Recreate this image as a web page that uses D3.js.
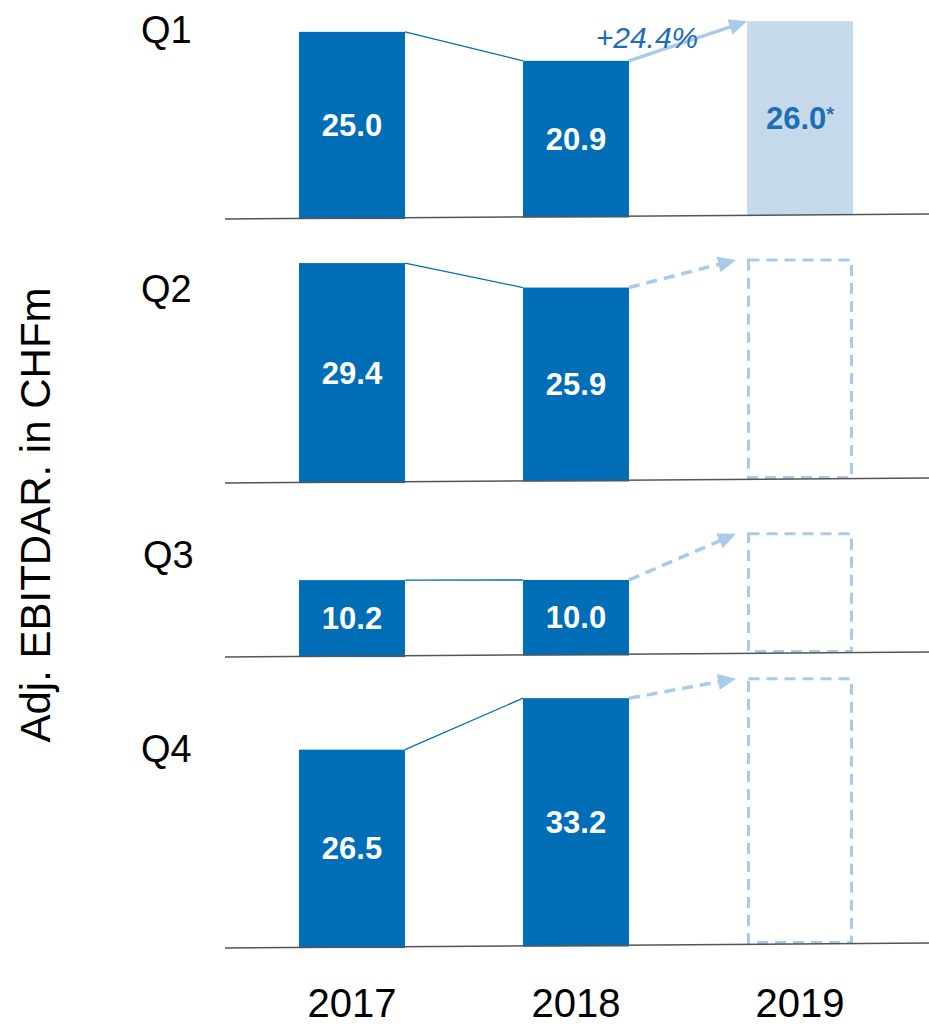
<!DOCTYPE html>
<html>
<head>
<meta charset="utf-8">
<script src="https://cdn.jsdelivr.net/npm/d3@7"></script>
<style>
  html, body { margin: 0; padding: 0; background: #fff; }
  svg { display: block; font-family: "Liberation Sans", Arial, sans-serif; }
</style>
</head>
<body>
<svg id="chart" width="929" height="1027"></svg>
<script>
// ---- data ----
const years = ["2017", "2018", "2019"];
const quarters = ["Q1", "Q2", "Q3", "Q4"];
const values2017 = [25.0, 29.4, 10.2, 26.5];
const values2018 = [20.9, 25.9, 10.0, 33.2];
const values2019 = [26.0, null, null, null];
const outline2019 = [null, 29.4, 16.0, 35.6]; // placeholder boxes (no value)
const labels2019 = ["26.0", null, null, null];
const growthLabels = ["+24.4%", null, null, null];
const yAxisTitle = "Adj. EBITDAR. in CHFm";

// ---- layout ----
const W = 929, H = 1027;
const baseLeft = [219, 483, 657, 948];   // baseline y at x = 225
const tilt = 5;                           // baseline drops this much to the right
const lineX0 = 225, lineX1 = 929;
const qLabelY = [43, 302, 568, 762];

const C = {
  bar: "#006eb6",
  barLight: "#c6d9ea",
  arrow: "#a9cbe9",
  text: "#1a6fb5",
  base: "#555"
};

const svg = d3.select("#chart");

const x = d3.scaleBand().domain(years).range([240, 912])
  .paddingInner(0.527).paddingOuter(0.2635);
const h = d3.scaleLinear().domain([0, 40]).range([0, 298]);

function baseAt(q, px) {
  return baseLeft[q] - tilt * (px - lineX0) / (lineX1 - lineX0);
}

// arrowhead helper
function arrow(g, x1, y1, x2, y2, dashed) {
  const len = 18, half = 8;
  const dx = x2 - x1, dy = y2 - y1, L = Math.hypot(dx, dy);
  const ux = dx / L, uy = dy / L;
  const bx = x2 - ux * len, by = y2 - uy * len;
  g.append("line")
    .attr("x1", x1).attr("y1", y1).attr("x2", bx + ux * 2).attr("y2", by + uy * 2)
    .attr("stroke", C.arrow).attr("stroke-width", 3.5)
    .attr("stroke-dasharray", dashed ? "11,7" : null);
  g.append("path")
    .attr("d", `M${x2},${y2}L${bx - uy * half},${by + ux * half}L${bx + uy * half},${by - ux * half}Z`)
    .attr("fill", C.arrow);
}

// y-axis title
svg.append("text")
  .attr("transform", `translate(50,515) rotate(-90)`)
  .attr("text-anchor", "middle")
  .attr("font-size", 42)
  .attr("fill", "#000")
  .text(yAxisTitle);

// year labels
svg.append("g").selectAll("text").data(years).join("text")
  .attr("x", d => x(d) + x.bandwidth() / 2)
  .attr("y", 1017)
  .attr("text-anchor", "middle")
  .attr("font-size", 40)
  .attr("fill", "#000")
  .text(d => d);

quarters.forEach((q, i) => {
  const g = svg.append("g");

  // quarter label
  g.append("text")
    .attr("x", i === 2 ? 143 : 141).attr("y", qLabelY[i])
    .attr("font-size", 38).attr("fill", "#000")
    .text(q);

  const bw = x.bandwidth();
  const xs = years.map(y => x(y));
  const bases = xs.map(px => baseAt(i, px + bw / 2));
  const t17 = bases[0] - h(values2017[i]);
  const t18 = bases[1] - h(values2018[i]);

  // bars 2017/2018
  [[values2017[i], 0, t17], [values2018[i], 1, t18]].forEach(([v, k, top]) => {
    g.append("rect")
      .attr("x", xs[k]).attr("y", top)
      .attr("width", bw).attr("height", bases[k] - top + 1)
      .attr("fill", C.bar);
    g.append("text")
      .attr("x", xs[k] + bw / 2).attr("y", (top + bases[k]) / 2 + 11)
      .attr("text-anchor", "middle")
      .attr("font-size", 31).attr("font-weight", "bold")
      .attr("fill", "#fff")
      .text(v.toFixed(1));
  });

  // connector 2017 -> 2018
  g.append("line")
    .attr("x1", xs[0] + bw).attr("y1", t17)
    .attr("x2", xs[1]).attr("y2", t18)
    .attr("stroke", C.bar).attr("stroke-width", 1.3);

  // 2019
  if (values2019[i] != null) {
    const t19 = bases[2] - h(values2019[i]);
    g.append("rect")
      .attr("x", xs[2]).attr("y", t19)
      .attr("width", bw).attr("height", bases[2] - t19)
      .attr("fill", C.barLight);
    const tx = g.append("text")
      .attr("x", xs[2] + bw / 2).attr("y", (t19 + bases[2]) / 2 + 11)
      .attr("text-anchor", "middle")
      .attr("font-size", 31).attr("font-weight", "bold")
      .attr("fill", C.text);
    tx.append("tspan").text(labels2019[i]);
    tx.append("tspan").attr("font-size", 20).attr("dy", -8).text("*");
    arrow(g, xs[1] + bw, t18, xs[2], t19, false);
  } else if (outline2019[i] != null) {
    const t19 = bases[2] - h(outline2019[i]);
    g.append("rect")
      .attr("x", xs[2] + 1.5).attr("y", t19)
      .attr("width", bw - 3).attr("height", bases[2] - t19 - 1.5)
      .attr("fill", "none")
      .attr("stroke", C.arrow).attr("stroke-width", 3)
      .attr("stroke-dasharray", "11,7");
    arrow(g, xs[1] + bw, t18, xs[2] - 11, t19, true);
  }

  if (growthLabels[i]) {
    g.append("text")
      .attr("x", 647).attr("y", 48)
      .attr("text-anchor", "middle")
      .attr("font-size", 30).attr("font-style", "italic")
      .attr("fill", C.text)
      .text(growthLabels[i]);
  }

  // baseline
  g.append("line")
    .attr("x1", lineX0).attr("y1", baseAt(i, lineX0))
    .attr("x2", lineX1).attr("y2", baseAt(i, lineX1))
    .attr("stroke", C.base).attr("stroke-width", 1.5);
});
</script>
</body>
</html>
